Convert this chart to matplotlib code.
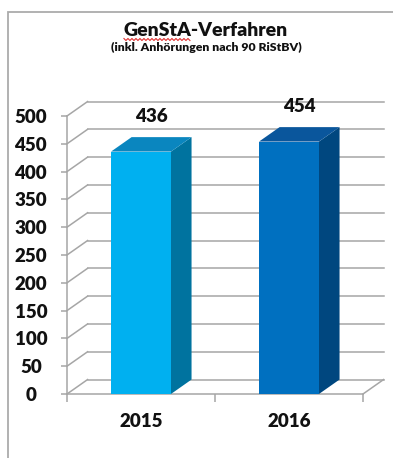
import matplotlib
matplotlib.use("Agg")
import matplotlib.pyplot as plt
from matplotlib.patches import Polygon, Rectangle
from matplotlib.transforms import IdentityTransform
from matplotlib.lines import Line2D
import numpy as np

# --- data -------------------------------------------------------------
years = ["2015", "2016"]
cases = [436, 454]
y_ticks = [0, 50, 100, 150, 200, 250, 300, 350, 400, 450, 500]

title = "GenStA-Verfahren"
subtitle = "(inkl. Anhörungen nach 90 RiStBV)"

front_colors = ["#00B0F0", "#0070C0"]
side_colors = ["#00739F", "#00477F"]
top_colors = ["#0A86BF", "#0A569C"]
grid_color = "#A6A6A6"
text_color = "#111111"
weight = "heavy"

plt.rcParams["font.family"] = ["Lato", "DejaVu Sans"]

W, H = 393, 458
fig = plt.figure(figsize=(W / 100, H / 100), dpi=100)
fig.patch.set_facecolor("white")

# plot area (front plane of the pseudo-3D box)
ax = fig.add_axes([67 / W, 64 / H, 296 / W, 278 / H])
ax.set_xlim(-0.5, 1.5)
ax.set_ylim(0, 500)
ax.patch.set_visible(False)

# depth of the 3D effect in data units
dx = 0.139
dy = 26.0
bar_w = 0.405

x0, x1 = ax.get_xlim()

# back wall gridlines and left side wall diagonals
for t in y_ticks:
    ax.plot([x0 + dx, x1 + dx], [t + dy, t + dy], color=grid_color, lw=1.1,
            clip_on=False, zorder=1)
    ax.plot([x0, x0 + dx], [t, t + dy], color=grid_color, lw=1.1,
            clip_on=False, zorder=1)
# floor right edge
ax.plot([x1, x1 + dx], [0, dy], color=grid_color, lw=1.1, clip_on=False, zorder=1)

# 3D bars
for i, v in enumerate(cases):
    l, r = i - bar_w / 2, i + bar_w / 2
    side = Polygon([(r, 0), (r + dx, dy), (r + dx, v + dy), (r, v)],
                   closed=True, fc=side_colors[i], ec="none", clip_on=False, zorder=3)
    top = Polygon([(l, v), (r, v), (r + dx, v + dy), (l + dx, v + dy)],
                  closed=True, fc=top_colors[i], ec="none", clip_on=False, zorder=3)
    ax.add_patch(side)
    ax.add_patch(top)
    ax.bar(i, v, width=bar_w, color=front_colors[i], zorder=4, clip_on=False)
    ax.annotate(str(v), xy=(i + dx / 2, v + dy), xytext=(0, 11),
                textcoords="offset points", ha="center", va="baseline",
                fontsize=13.5, fontweight=weight, color=text_color, zorder=5)

# axes lines
for s in ["top", "right"]:
    ax.spines[s].set_visible(False)
for s in ["left", "bottom"]:
    ax.spines[s].set_color(grid_color)
    ax.spines[s].set_linewidth(1.1)

ax.set_yticks(y_ticks)
ax.set_yticklabels([str(t) for t in y_ticks])
ax.tick_params(axis="y", direction="out", length=4, width=1.1, color=grid_color,
               pad=22, labelsize=13.5, labelcolor=text_color)
for lab in ax.get_yticklabels():
    lab.set_fontweight(weight)
    lab.set_horizontalalignment("center")

ax.set_xticks([-0.5, 0.5, 1.5])
ax.set_xticklabels([])
ax.set_xticks([0, 1], minor=True)
ax.set_xticklabels(years, minor=True)
ax.tick_params(axis="x", which="major", direction="out", length=6, width=1.1,
               color=grid_color)
ax.tick_params(axis="x", which="minor", length=0, pad=14, labelsize=13.5,
               labelcolor=text_color)
for lab in ax.get_xticklabels(minor=True):
    lab.set_fontweight(weight)

# titles
tx = 206 / W
t_main = fig.text(tx, 1 - 30 / H, title, ha="center", va="center",
                  fontsize=14, fontweight=weight, color=text_color)
fig.text(tx, 1 - 47 / H, subtitle, ha="center", va="center",
         fontsize=8.8, fontweight=weight, color=text_color)

# chart frame
fig.add_artist(Rectangle((8 / W, -0.1), 1.2, 0.1 + (H - 12) / H,
                         transform=fig.transFigure, fill=False,
                         ec="#ABABAB", lw=1.3))

# red wavy spell-check underline below "GenStA"
fig.canvas.draw()
renderer = fig.canvas.get_renderer()
bb = t_main.get_window_extent(renderer)
probe = fig.text(0, 0, "GenStA", fontsize=14, fontweight=weight)
wpart = probe.get_window_extent(renderer).width
probe.remove()
xs = np.arange(bb.x0, bb.x0 + wpart, 2.0)
ys = bb.y0 - 1.0 + np.where(np.arange(len(xs)) % 2 == 0, 1.0, -1.0)
fig.add_artist(Line2D(xs, ys, transform=IdentityTransform(), color="#E03030",
                      lw=0.8))

fig.savefig("out.png", dpi=100)
